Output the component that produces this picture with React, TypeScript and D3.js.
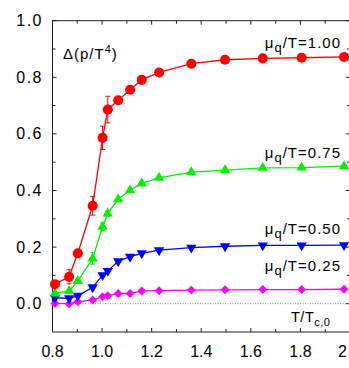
import React, { useEffect, useRef } from 'react';
import * as d3 from 'd3';

// temperatures T/Tc,0 (shared by all series)
const temps = [0.81, 0.867, 0.902, 0.962, 1.002, 1.023, 1.065, 1.113, 1.16, 1.23, 1.36, 1.496, 1.648, 1.805, 1.976];

// Delta(p/T^4) for each mu_q/T
const mu100 = [0.069, 0.095, 0.178, 0.346, 0.586, 0.686, 0.719, 0.756, 0.791, 0.817, 0.848, 0.862, 0.867, 0.869, 0.872];
const mu100Err = [0.006, 0.025, 0.013, 0.033, 0.041, 0.047, 0.008, 0.006, 0.005, 0, 0, 0, 0, 0, 0];
const mu075 = [0.036, 0.045, 0.08, 0.16, 0.272, 0.319, 0.369, 0.401, 0.425, 0.445, 0.465, 0.472, 0.48, 0.481, 0.486];
const mu075Err = [0.003, 0.004, 0.006, 0.02, 0.013, 0.01, 0.005, 0.004, 0, 0, 0, 0, 0, 0, 0];
const mu050 = [0.021, 0.019, 0.028, 0.058, 0.101, 0.116, 0.15, 0.166, 0.178, 0.189, 0.198, 0.203, 0.206, 0.206, 0.207];
const mu025 = [0.001, 0.0, 0.007, 0.013, 0.025, 0.028, 0.036, 0.036, 0.045, 0.046, 0.048, 0.049, 0.05, 0.05, 0.051];

const xTickLabels = ['0.8', '1.0', '1.2', '1.4', '1.6', '1.8', '2'];
const yTickLabels = ['0.0', '0.2', '0.4', '0.6', '0.8', '1.0'];

const seriesLabels = ['1.00', '0.75', '0.50', '0.25'];

const FONT = '"Liberation Sans", Arial, Helvetica, sans-serif';

const App = () => {
  const svgRef = useRef<SVGSVGElement>(null);

  useEffect(() => {
    const width = 349;
    const height = 368;
    const svg = d3.select(svgRef.current).attr('width', width).attr('height', height);
    svg.selectAll('*').remove();

    const xScale = d3.scaleLinear().domain([0.8, 2.0]).range([52.5, 350]);
    const yScale = d3.scaleLinear().domain([-0.1, 1.0]).range([332, 20.7]);
    const [x0, x1] = xScale.range();
    const [y0, y1] = yScale.range();

    // frame
    svg.append('rect')
      .attr('x', x0).attr('y', y1)
      .attr('width', x1 - x0).attr('height', y0 - y1)
      .attr('fill', 'none').attr('stroke', '#222').attr('stroke-width', 1);

    // ticks (inward, all four sides)
    const xMinor = d3.range(0.8, 2.0001, 0.1);
    const yMinor = d3.range(0.0, 1.0001, 0.1);
    const ticks = svg.append('g').attr('stroke', '#222').attr('stroke-width', 1);
    xMinor.forEach((v, i) => {
      const len = i % 2 === 0 ? 4 : 3;
      const x = xScale(v);
      ticks.append('line').attr('x1', x).attr('x2', x).attr('y1', y0).attr('y2', y0 - len);
      ticks.append('line').attr('x1', x).attr('x2', x).attr('y1', y1).attr('y2', y1 + len);
    });
    yMinor.forEach((v, i) => {
      const len = i % 2 === 0 ? 4 : 3;
      const y = yScale(v);
      ticks.append('line').attr('x1', x0).attr('x2', x0 + len).attr('y1', y).attr('y2', y);
      ticks.append('line').attr('x1', x1).attr('x2', x1 - len).attr('y1', y).attr('y2', y);
    });

    // tick labels
    xTickLabels.forEach((t) => {
      const v = +t;
      const last = v === 2;
      svg.append('text')
        .attr('x', last ? 347 : xScale(v))
        .attr('y', 357)
        .attr('text-anchor', last ? 'end' : 'middle')
        .attr('font-family', FONT).attr('font-size', 16)
        .text(t);
    });
    yTickLabels.forEach((t) => {
      svg.append('text')
        .attr('x', 43)
        .attr('y', yScale(+t) + 5.5)
        .attr('text-anchor', 'end')
        .attr('font-family', FONT).attr('font-size', 16)
        .attr('letter-spacing', 1.5)
        .text(t);
    });

    // zero line
    svg.append('line')
      .attr('x1', x0).attr('x2', x1)
      .attr('y1', yScale(0)).attr('y2', yScale(0))
      .attr('stroke', '#777').attr('stroke-width', 0.8)
      .attr('stroke-dasharray', '1,1.5');

    const series = [
      { values: mu100, err: mu100Err, color: '#ff0000', symbol: d3.symbolCircle, size: 80, rotate: 0 },
      { values: mu075, err: mu075Err, color: '#00f000', symbol: d3.symbolTriangle, size: 46, rotate: 0 },
      { values: mu050, err: null, color: '#0000ff', symbol: d3.symbolTriangle, size: 46, rotate: 180 },
      { values: mu025, err: null, color: '#ff00ff', symbol: d3.symbolSquare, size: 40, rotate: 45 },
    ];

    const line = d3.line<number>()
      .x((d, i) => xScale(temps[i]))
      .y((d) => yScale(d));

    series.slice().reverse().forEach((s) => {
      const g = svg.append('g');
      g.append('path')
        .datum(s.values)
        .attr('fill', 'none')
        .attr('stroke', s.color)
        .attr('stroke-width', 1.3)
        .attr('d', line);

      if (s.err) {
        s.values.forEach((v, i) => {
          const e = s.err![i];
          if (!e) return;
          const x = xScale(temps[i]);
          const ya = yScale(v - e);
          const yb = yScale(v + e);
          g.append('line').attr('x1', x).attr('x2', x).attr('y1', ya).attr('y2', yb)
            .attr('stroke', s.color).attr('stroke-width', 1);
          [ya, yb].forEach((y) => {
            g.append('line').attr('x1', x - 2.5).attr('x2', x + 2.5).attr('y1', y).attr('y2', y)
              .attr('stroke', s.color).attr('stroke-width', 1);
          });
        });
      }

      const sym = d3.symbol().type(s.symbol).size(s.size);
      g.selectAll('path.pt')
        .data(s.values)
        .join('path')
        .attr('class', 'pt')
        .attr('d', sym)
        .attr('fill', s.color)
        .attr('transform', (d, i) => `translate(${xScale(temps[i])},${yScale(d)}) rotate(${s.rotate})`);
    });

    // series labels
    const labelY = [48.3, 157.8, 234, 271.3];
    seriesLabels.forEach((lab, i) => {
      const t = svg.append('text')
        .attr('x', 341)
        .attr('y', labelY[i])
        .attr('text-anchor', 'end')
        .attr('font-family', FONT).attr('font-size', 15)
        .attr('letter-spacing', 1);
      t.append('tspan').text('μ');
      t.append('tspan').attr('dy', 4).attr('font-size', 13).text('q');
      t.append('tspan').attr('dy', -4).text(`/T=${lab}`);
    });

    // axis titles
    const yt = svg.append('text')
      .attr('x', 63).attr('y', 59)
      .attr('font-family', FONT).attr('font-size', 15)
      .attr('letter-spacing', 1);
    yt.append('tspan').text('Δ(p/T');
    yt.append('tspan').attr('dy', -6).attr('font-size', 11).text('4');
    yt.append('tspan').attr('dy', 6).text(')');

    const xt = svg.append('text')
      .attr('x', 291).attr('y', 322.3)
      .attr('font-family', FONT).attr('font-size', 14.5)
      .attr('letter-spacing', 0.5);
    xt.append('tspan').text('T/T');
    xt.append('tspan').attr('dy', 4).attr('font-size', 11).text('c,0');
  }, []);

  return <svg ref={svgRef} style={{ position: 'absolute', left: 0, top: 0, background: '#fff' }}></svg>;
};

export default App;
